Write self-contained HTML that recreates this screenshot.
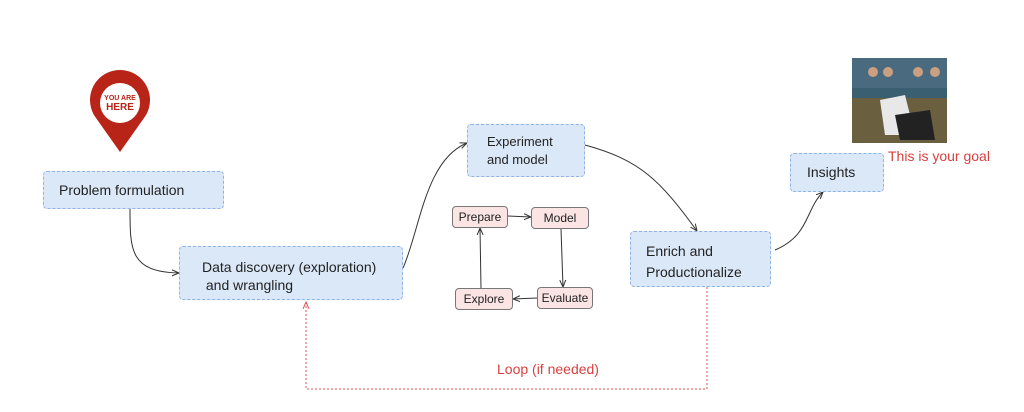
<!DOCTYPE html>
<html><head><style>
body{margin:0;width:1024px;height:412px;background:#fff;position:relative;overflow:hidden;font-family:"Liberation Sans",sans-serif;}
.b{position:absolute;background:#dbe8f8;border:1px dashed #8fb3e6;border-radius:4px;color:#222;font-size:14px;box-sizing:border-box;}
.p{position:absolute;background:#fbe4e4;border:1px solid #777;border-radius:4px;font-size:12px;color:#222;text-align:center;box-sizing:border-box;line-height:20px;}
</style></head><body>
<svg width="1024" height="412" style="position:absolute;left:0;top:0">
<defs><marker id="a" markerWidth="8" markerHeight="8" refX="7" refY="4" orient="auto"><path d="M0,1 L7,4 L0,7" fill="none" stroke="#333" stroke-width="1"/></marker>
<marker id="r" markerWidth="8" markerHeight="8" refX="7" refY="4" orient="auto"><path d="M0,1 L7,4 L0,7" fill="none" stroke="#e05555" stroke-width="1"/></marker></defs>
<g fill="none" stroke="#333" stroke-width="1">
<path d="M130,209 C130,250 130,272 179,273" marker-end="url(#a)"/>
<path d="M403,268 C420,230 425,160 467,143" marker-end="url(#a)"/>
<path d="M585,145 C640,160 660,180 697,231" marker-end="url(#a)"/>
<path d="M775,250 C810,235 805,210 823,192" marker-end="url(#a)"/>
<path d="M508,216 L531,217" marker-end="url(#a)"/>
<path d="M561,229 L563,287" marker-end="url(#a)"/>
<path d="M537,298 L513,299" marker-end="url(#a)"/>
<path d="M481,288 L480,228" marker-end="url(#a)"/>
</g>
<path d="M707,287 L707,389 L306,389 L306,302" fill="none" stroke="#e05555" stroke-width="1" stroke-dasharray="2,2" marker-end="url(#r)"/>
<path d="M120,152 L96,118 A30,30 0 1 1 144,118 Z" fill="#b82418"/>
<circle cx="120" cy="103" r="20" fill="#fff"/>
<text x="120" y="100" font-size="7" font-weight="bold" fill="#b82418" text-anchor="middle" font-family="Liberation Sans">YOU ARE</text>
<text x="120" y="110" font-size="10" font-weight="bold" fill="#b82418" text-anchor="middle" font-family="Liberation Sans">HERE</text>
<rect x="852" y="58" width="95" height="85" fill="#6a6040"/>
<rect x="852" y="58" width="95" height="30" fill="#4a6a80"/>
<rect x="852" y="88" width="95" height="10" fill="#3a5f70"/>
<circle cx="873" cy="72" r="5" fill="#c9a080"/><circle cx="888" cy="72" r="5" fill="#c9a080"/>
<circle cx="918" cy="72" r="5" fill="#c9a080"/><circle cx="935" cy="72" r="5" fill="#c9a080"/>
<path d="M880,100 L905,95 L915,135 L885,135Z" fill="#e8e8e8"/>
<path d="M895,115 L930,110 L935,140 L900,140Z" fill="#222"/>
</svg>
<div class="b" style="left:43px;top:171px;width:181px;height:38px;padding:10px 0 0 15px">Problem formulation</div>
<div class="b" style="left:179px;top:246px;width:224px;height:54px;padding:11px 0 0 22px;line-height:18px">Data discovery (exploration)<br>&nbsp;and wrangling</div>
<div class="b" style="left:467px;top:124px;width:118px;height:53px;padding:8px 0 0 19px;line-height:18px;font-size:13px">Experiment<br>and model</div>
<div class="b" style="left:630px;top:231px;width:141px;height:56px;padding:9px 0 0 15px;line-height:21px">Enrich and<br>Productionalize</div>
<div class="b" style="left:790px;top:153px;width:94px;height:39px;padding:10px 0 0 16px">Insights</div>
<div class="p" style="left:452px;top:206px;width:56px;height:22px">Prepare</div>
<div class="p" style="left:531px;top:207px;width:58px;height:22px">Model</div>
<div class="p" style="left:537px;top:287px;width:56px;height:22px">Evaluate</div>
<div class="p" style="left:455px;top:288px;width:58px;height:22px">Explore</div>
<div style="position:absolute;left:888px;top:148px;color:#d94040;font-size:14px">This is your goal</div>
<div style="position:absolute;left:497px;top:361px;color:#d94040;font-size:14px">Loop (if needed)</div>
</body></html>
